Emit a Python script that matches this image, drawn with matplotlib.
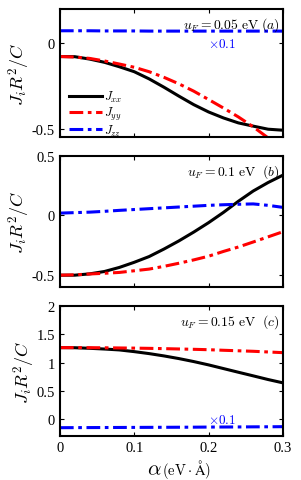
import matplotlib
matplotlib.use("Agg")
import matplotlib.pyplot as plt
import numpy as np
from matplotlib.ticker import FuncFormatter

plt.rcParams['font.family'] = ['Liberation Serif', 'DejaVu Serif']
plt.rcParams['mathtext.fontset'] = 'cm'

alpha = [0.0, 0.02, 0.04, 0.06, 0.08, 0.1, 0.12, 0.14, 0.16, 0.18, 0.2, 0.22, 0.24, 0.26, 0.28, 0.3]

# panel (a), u_F = 0.05 eV
a_xx = [-0.078, -0.079, -0.093, -0.112, -0.138, -0.167, -0.209, -0.258, -0.31, -0.36, -0.403, -0.438, -0.467, -0.486, -0.504, -0.51]
a_yy = [-0.078, -0.081, -0.089, -0.104, -0.122, -0.141, -0.167, -0.2, -0.238, -0.281, -0.33, -0.38, -0.432, -0.49, -0.555, -0.61]
a_zz = [0.073, 0.073, 0.073, 0.072, 0.072, 0.072, 0.071, 0.071, 0.071, 0.071, 0.071, 0.071, 0.071, 0.071, 0.071, 0.071]

# panel (b), u_F = 0.1 eV
b_xx = [-0.5, -0.5, -0.489, -0.469, -0.435, -0.392, -0.344, -0.281, -0.213, -0.139, -0.06, 0.026, 0.119, 0.205, 0.276, 0.338]
b_yy = [-0.5, -0.497, -0.49, -0.484, -0.477, -0.463, -0.449, -0.426, -0.4, -0.372, -0.341, -0.301, -0.264, -0.222, -0.179, -0.136]
b_zz = [0.02, 0.024, 0.028, 0.035, 0.043, 0.05, 0.057, 0.064, 0.071, 0.078, 0.085, 0.09, 0.094, 0.097, 0.085, 0.068]

# panel (c), u_F = 0.15 eV
c_xx = [1.265, 1.263, 1.253, 1.24, 1.224, 1.194, 1.159, 1.118, 1.071, 1.018, 0.959, 0.894, 0.829, 0.765, 0.7, 0.641]
c_yy = [1.265, 1.265, 1.264, 1.262, 1.259, 1.256, 1.252, 1.247, 1.241, 1.235, 1.228, 1.218, 1.209, 1.2, 1.188, 1.176]
c_zz = [-0.153, -0.152, -0.151, -0.15, -0.149, -0.148, -0.147, -0.146, -0.145, -0.144, -0.142, -0.141, -0.14, -0.138, -0.137, -0.135]

labels = [r"$u_F=0.05\ \mathrm{eV}\ (a)$", r"$u_F=0.1\ \mathrm{eV}\ \ (b)$", r"$u_F=0.15\ \mathrm{eV}\ \ (c)$"]

fig = plt.figure(figsize=(3.01, 4.81), dpi=100)
boxes = [[0.199, 0.713, 0.741, 0.266],
         [0.199, 0.401, 0.741, 0.273],
         [0.199, 0.0915, 0.741, 0.27]]
data = [(a_xx, a_yy, a_zz), (b_xx, b_yy, b_zz), (c_xx, c_yy, c_zz)]
ylims = [(-0.55, 0.2), (-0.6, 0.5), (-0.3, 2.0)]
yticks = [[-0.5, 0], [-0.5, 0, 0.5], [0, 0.5, 1, 1.5, 2]]

fmt = FuncFormatter(lambda v, p: "%g" % v)
dashdot = (0, (4.5, 1.5, 1.2, 1.5))

for i in range(3):
    ax = fig.add_axes(boxes[i])
    xx, yy, zz = data[i]
    ax.plot(alpha, xx, color="black", lw=2.2, label=r"$J_{xx}$")
    ax.plot(alpha, yy, color="red", lw=2.2, ls=dashdot, label=r"$J_{yy}$")
    ax.plot(alpha, zz, color="blue", lw=2.2, ls=dashdot, label=r"$J_{zz}$")
    ax.set_xlim(0, 0.3)
    ax.set_ylim(*ylims[i])
    ax.set_xticks([0, 0.1, 0.2, 0.3])
    ax.set_yticks(yticks[i])
    ax.xaxis.set_major_formatter(fmt)
    ax.yaxis.set_major_formatter(fmt)
    ax.tick_params(direction="in", top=True, right=True, labelsize=10.5, length=3, width=0.8)
    for s in ax.spines.values():
        s.set_linewidth(1.5)
    ax.set_ylabel(r"$J_iR^2/C$", fontsize=13, labelpad=0)
    ax.text(0.985, 0.95, labels[i], transform=ax.transAxes, ha="right", va="top", fontsize=9.8)
    if i < 2:
        ax.tick_params(labelbottom=False)
    else:
        ax.text(0.455, -0.295, r"$\alpha$", transform=ax.transAxes, ha="right", va="baseline", fontsize=15)
        ax.text(0.458, -0.295, r"$(\mathrm{eV}\cdot\mathrm{\AA})$", transform=ax.transAxes,
                ha="left", va="baseline", fontsize=10.5)
    if i == 0:
        ax.legend(loc="lower left", bbox_to_anchor=(0.02, -0.045), frameon=False, fontsize=9,
                  handlelength=2.6, borderaxespad=0.0, labelspacing=0.05, handletextpad=0.2)
        ax.text(0.218, 0.0, r"$\times0.1$", color="blue", fontsize=9.5, ha="center", va="center")
    if i == 2:
        ax.text(0.218, 0.0, r"$\times0.1$", color="blue", fontsize=9.5, ha="center", va="center")

plt.savefig("out.png", dpi=100)
